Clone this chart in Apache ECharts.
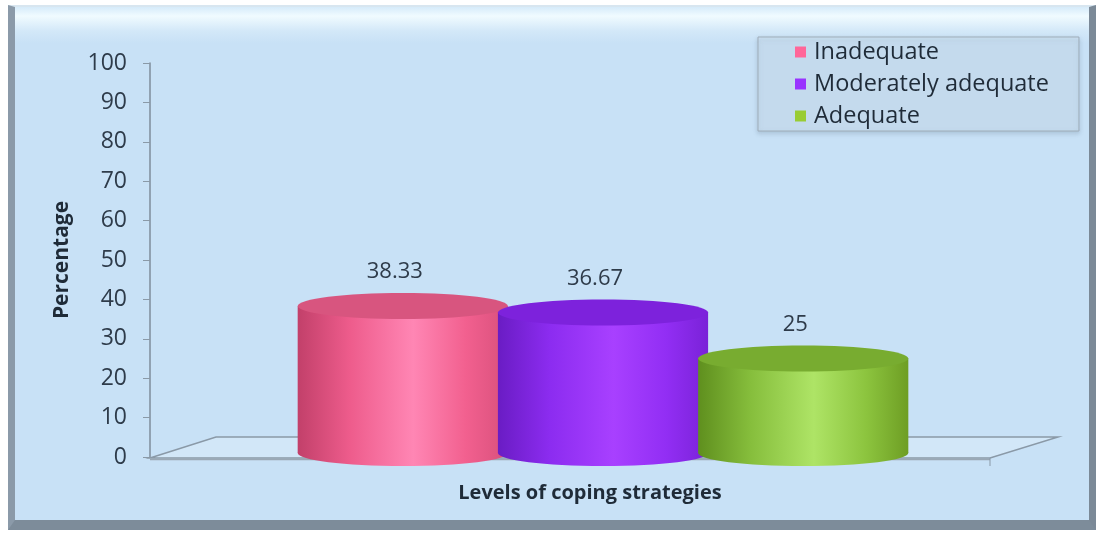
<!DOCTYPE html>
<html><head><meta charset="utf-8">
<script src="https://cdn.jsdelivr.net/npm/echarts@6/dist/echarts.min.js"></script>
<style>
html,body{margin:0;padding:0;background:#fff;width:1102px;height:536px;overflow:hidden;}
#frame{position:absolute;left:8px;top:5px;width:1088px;height:525px;box-sizing:border-box;
 border-left:7px solid #8b9aa9;border-bottom:10px solid #7d8c9a;border-right:7px solid #7b8997;border-top:2px solid #d8e6f0;
 background:linear-gradient(to bottom,#d6ebfa 0px,#f0fbff 9px,#d3e8f8 24px,#c8e1f6 36px,#c8e1f6 100%);}
#chart{position:absolute;left:0;top:0;width:1102px;height:536px;}
</style></head>
<body>
<div id="frame"></div>
<div id="chart"></div>
<script>
const categories = ['Levels of coping strategies'];
const seriesNames = ['Inadequate', 'Moderately adequate', 'Adequate'];
const inadequate = [38.33];
const moderatelyAdequate = [36.67];
const adequate = [25];
const yTicks = [0, 10, 20, 30, 40, 50, 60, 70, 80, 90, 100];

const palettes = [
  {base:'#ff6699', stops:['#c2406a','#ee5c8c','#ff86b4','#f2608f','#d9507c'], top:'#d8557f'},
  {base:'#9933ff', stops:['#6a1cc4','#8c2cf0','#a840ff','#922ef4','#7a22d8'], top:'#7d22dc'},
  {base:'#99cc33', stops:['#5f8f1e','#86be3c','#aee466','#8cc43e','#6e9e24'], top:'#78ac30'}
];
const FONT = '"Open Sans", Lato, sans-serif';

function cylinder(idx){
  return function(params, api){
    const band = api.size([1,0])[0];
    const c = api.coord([api.value(0), api.value(1)]);
    const b = api.coord([api.value(0), 0]);
    const w = band * 0.232;
    const cx = c[0] + (idx - 1) * band * 0.221;
    const ry = 13;
    const topY = c[1];
    const baseY = b[1] - 4;
    const p = palettes[idx];
    const grad = new echarts.graphic.LinearGradient(0,0,1,0,[
      {offset:0,color:p.stops[0]},{offset:0.25,color:p.stops[1]},{offset:0.55,color:p.stops[2]},
      {offset:0.8,color:p.stops[3]},{offset:1,color:p.stops[4]}]);
    return {type:'group', children:[
      {type:'ellipse', shape:{cx:cx, cy:baseY, rx:w/2, ry:ry}, style:{fill:grad}},
      {type:'rect', shape:{x:cx-w/2, y:topY, width:w, height:baseY-topY}, style:{fill:grad}},
      {type:'ellipse', shape:{cx:cx, cy:topY, rx:w/2, ry:ry}, style:{fill:p.top}},
      {type:'text', style:{text:String(api.value(1)), x:cx-8, y:topY-34, align:'center', verticalAlign:'middle',
        font:'22px ' + FONT, fill:'#2e3b4a'}}
    ]};
  };
}

function floor(params, api){
  const cs = params.coordSys;
  const y0 = api.coord([0, 0])[1];
  const x0 = cs.x, x1 = cs.x + cs.width;
  const dx = 66, dy = 20;
  return {type:'group', children:[
    {type:'polygon', shape:{points:[[x0,y0+1],[x0+dx,y0-dy],[x1+2,y0-dy],[x1-dx,y0+1]]},
      style:{fill:'rgba(214,234,250,0.7)', stroke:'#8a99a7', lineWidth:1.5}},
    {type:'line', shape:{x1:x0, y1:y0+2.5, x2:x1-dx, y2:y0+2.5}, style:{stroke:'#9aa8b5', lineWidth:1.5}},
    {type:'line', shape:{x1:x1-dx, y1:y0+1, x2:x1-dx, y2:y0+9}, style:{stroke:'#8a99a7', lineWidth:1}}
  ]};
}

const values = [inadequate, moderatelyAdequate, adequate];
const series = [{
  type:'custom', name:'floor', renderItem:floor, data:[[0,0]], z:1, silent:true, legendHoverLink:false
}];
values.forEach(function(v, i){
  series.push({
    type:'custom', name:seriesNames[i], renderItem:cylinder(i), z:2 + i,
    itemStyle:{color:palettes[i].base},
    encode:{x:0, y:1},
    data:v.map(function(val, k){ return [k, val]; })
  });
});

const chart = echarts.init(document.getElementById('chart'));
chart.setOption({
  animation:false,
  backgroundColor:'transparent',
  textStyle:{fontFamily:FONT},
  grid:{left:150, right:46, top:63, bottom:79},
  legend:{
    data:seriesNames, orient:'vertical', left:758, top:37,
    icon:'rect', itemWidth:11, itemHeight:11, itemGap:8,
    padding:[3, 30, 3, 37],
    backgroundColor:'rgba(214,234,250,0.55)', borderColor:'#9eacb8', borderWidth:1,
    shadowColor:'rgba(80,100,120,0.35)', shadowBlur:4, shadowOffsetY:2,
    textStyle:{fontSize:23.5, color:'#1f2b38', fontFamily:FONT, padding:[0,0,0,3]}
  },
  xAxis:{
    type:'category', data:categories,
    axisLine:{show:false}, axisTick:{show:false}, axisLabel:{show:false},
    name:categories[0], nameLocation:'middle', nameGap:26,
    nameTextStyle:{fontSize:20, fontWeight:'bold', color:'#1f2b38', fontFamily:FONT, padding:[0,26,0,0]}
  },
  yAxis:{
    type:'value', min:yTicks[0], max:yTicks[yTicks.length-1], interval:10,
    axisLine:{show:true, lineStyle:{color:'#7f8d9b', width:1.5}},
    axisTick:{show:true, length:7, lineStyle:{color:'#8a99a7'}},
    axisLabel:{fontSize:23, color:'#2e3b4a', margin:23, fontFamily:FONT},
    splitLine:{show:false},
    name:'Percentage', nameLocation:'middle', nameGap:77, nameRotate:90,
    nameTextStyle:{fontSize:21, fontWeight:'bold', color:'#1f2b38', fontFamily:FONT}
  },
  series:series
});
</script>
</body></html>
